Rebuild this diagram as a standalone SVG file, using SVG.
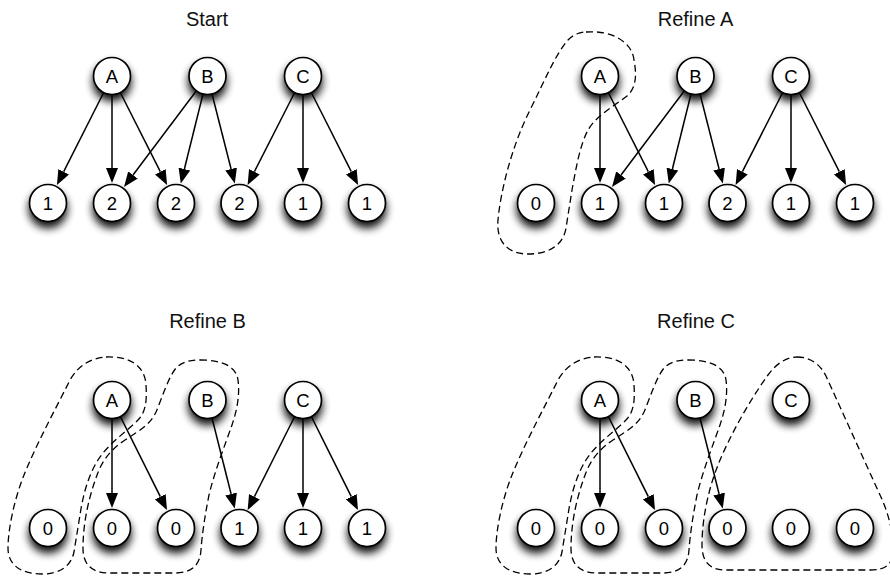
<svg xmlns="http://www.w3.org/2000/svg" xmlns:xlink="http://www.w3.org/1999/xlink" width="890" height="578" viewBox="0 0 890 578">
  <style>
    .title { font-family: "Liberation Sans", Arial, Helvetica, sans-serif; font-size: 20px; fill: #111; text-anchor: middle; }
    .node circle { fill: #fff; stroke: #000; stroke-width: 1.7; filter: url(#shadow); }
    .node text { font-family: "Liberation Sans", Arial, Helvetica, sans-serif; font-size: 18.5px; fill: #000; text-anchor: middle; }
    .edge { stroke: #000; stroke-width: 1.5; fill: none; marker-end: url(#arrow); }
    .group { fill: none; stroke: #000; stroke-width: 1.3; stroke-dasharray: 7 4; }
  </style>
  <defs>
    <filter id="shadow" x="-60%" y="-60%" width="220%" height="250%">
      <feGaussianBlur in="SourceAlpha" stdDeviation="4" result="blur"/>
      <feOffset in="blur" dx="0" dy="6" result="off"/>
      <feComponentTransfer in="off" result="soft">
        <feFuncA type="linear" slope="0.95"/>
      </feComponentTransfer>
      <feMerge>
        <feMergeNode in="soft"/>
        <feMergeNode in="SourceGraphic"/>
      </feMerge>
    </filter>
    <marker id="arrow" markerWidth="15" markerHeight="12" refX="0" refY="6" orient="auto" markerUnits="userSpaceOnUse">
      <path d="M0,0 L15,6 L0,12 Z" fill="#000"/>
    </marker>
    <!-- class outlines, drawn for the left-hand panel and shifted for the right one -->
    <path id="hull-a" d="M 106,357 C 130,356 145,366 146,385 C 147,400 146,412 138,420 C 126,432 108,444 98,460 C 88,476 83,495 80,515 L 74,552 C 71,566 60,574 42,574 C 22,574 8,566 8,548 C 8,530 14,500 24,475 C 36,445 55,410 70,380 C 78,366 90,358 106,357 Z"/>
    <path id="hull-b" d="M 200,360 C 222,360 236,366 238,380 C 240,395 237,410 232,425 C 225,445 215,470 209,495 C 205,515 202,535 201,550 C 200,565 192,573 175,573 L 110,573 C 92,573 83,565 83,548 C 83,525 88,500 96,478 C 101,462 110,450 125,440 C 140,430 150,425 156,412 C 162,398 168,378 176,368 C 182,362 190,360 200,360 Z"/>
  </defs>

  <rect x="0" y="0" width="890" height="578" fill="#fff"/>

  <!-- panel titles -->
  <text class="title" x="207" y="26">Start</text>
  <text class="title" x="695.5" y="26">Refine A</text>
  <text class="title" x="207.5" y="328">Refine B</text>
  <text class="title" x="696" y="328">Refine C</text>

  <!-- dashed partition outlines -->
  <g id="outlines">
    <path class="group" d="M 586,32 C 612,30 632,42 634,60 C 637,76 636,88 627,96 C 614,106 596,116 588,130 C 580,145 576,168 572,190 L 566,228 C 563,246 548,254 528,254 C 508,254 496,242 498,220 C 500,196 510,150 530,110 C 545,80 555,55 568,40 C 573,35 579,32 586,32 Z"/>
    <use class="group" xlink:href="#hull-a"/>
    <use class="group" xlink:href="#hull-b"/>
    <use class="group" xlink:href="#hull-a" transform="translate(488,0)"/>
    <use class="group" xlink:href="#hull-b" transform="translate(488,0)"/>
    <path class="group" d="M 797,357 C 810,357 820,364 826,376 L 880,495 C 888,512 893,530 893,550 C 893,565 885,570 870,570 L 725,570 C 710,570 702,562 702,545 C 702,520 708,490 718,465 C 730,435 750,400 768,375 C 776,364 786,357 797,357 Z"/>
  </g>

  <!-- connectors -->
  <g id="connectors">
    <!-- Start -->
    <line class="edge" x1="103.7" y1="92.5" x2="63.7" y2="171.7"/>
    <line class="edge" x1="112" y1="94.5" x2="112" y2="168"/>
    <line class="edge" x1="120.3" y1="92.5" x2="160.3" y2="171.7"/>
    <line class="edge" x1="196.4" y1="90.8" x2="133" y2="175"/>
    <line class="edge" x1="203" y1="94" x2="184.4" y2="169"/>
    <line class="edge" x1="212" y1="94" x2="231.1" y2="169"/>
    <line class="edge" x1="294.7" y1="92.5" x2="254.4" y2="171.7"/>
    <line class="edge" x1="303" y1="94.5" x2="303" y2="168"/>
    <line class="edge" x1="311.3" y1="92.5" x2="351.3" y2="171.7"/>
    <!-- Refine A -->
    <line class="edge" x1="600" y1="94.5" x2="600" y2="168"/>
    <line class="edge" x1="608.3" y1="92.5" x2="648.3" y2="171.7"/>
    <line class="edge" x1="684.4" y1="90.8" x2="621" y2="175"/>
    <line class="edge" x1="691" y1="94" x2="672.4" y2="169"/>
    <line class="edge" x1="700" y1="94" x2="719.1" y2="169"/>
    <line class="edge" x1="782.7" y1="92.5" x2="742.4" y2="171.7"/>
    <line class="edge" x1="791" y1="94.5" x2="791" y2="168"/>
    <line class="edge" x1="799.3" y1="92.5" x2="839.3" y2="171.7"/>
    <!-- Refine B -->
    <line class="edge" x1="112" y1="418.5" x2="112" y2="493"/>
    <line class="edge" x1="120.3" y1="416.5" x2="160.3" y2="496.7"/>
    <line class="edge" x1="212" y1="418" x2="231.1" y2="494"/>
    <line class="edge" x1="294.7" y1="416.5" x2="254.4" y2="496.7"/>
    <line class="edge" x1="303" y1="418.5" x2="303" y2="493"/>
    <line class="edge" x1="311.3" y1="416.5" x2="351.3" y2="496.7"/>
    <!-- Refine C -->
    <line class="edge" x1="600" y1="418.5" x2="600" y2="493"/>
    <line class="edge" x1="608.3" y1="416.5" x2="648.3" y2="496.7"/>
    <line class="edge" x1="700" y1="418" x2="719.1" y2="494"/>
  </g>

  <!-- Start -->
  <g id="start-A" class="node"><circle cx="112" cy="76" r="18.5"/><text x="112" y="82.5">A</text></g>
  <g id="start-B" class="node"><circle cx="207.5" cy="76" r="18.5"/><text x="207.5" y="82.5">B</text></g>
  <g id="start-C" class="node"><circle cx="303" cy="76" r="18.5"/><text x="303" y="82.5">C</text></g>
  <g id="start-v1" class="node"><circle cx="48" cy="203" r="18.5"/><text x="48" y="209.5">1</text></g>
  <g id="start-v2" class="node"><circle cx="112" cy="203" r="18.5"/><text x="112" y="209.5">2</text></g>
  <g id="start-v3" class="node"><circle cx="176" cy="203" r="18.5"/><text x="176" y="209.5">2</text></g>
  <g id="start-v4" class="node"><circle cx="239.5" cy="203" r="18.5"/><text x="239.5" y="209.5">2</text></g>
  <g id="start-v5" class="node"><circle cx="303" cy="203" r="18.5"/><text x="303" y="209.5">1</text></g>
  <g id="start-v6" class="node"><circle cx="367" cy="203" r="18.5"/><text x="367" y="209.5">1</text></g>

  <!-- Refine A -->
  <g id="refA-A" class="node"><circle cx="600" cy="76" r="18.5"/><text x="600" y="82.5">A</text></g>
  <g id="refA-B" class="node"><circle cx="695.5" cy="76" r="18.5"/><text x="695.5" y="82.5">B</text></g>
  <g id="refA-C" class="node"><circle cx="791" cy="76" r="18.5"/><text x="791" y="82.5">C</text></g>
  <g id="refA-v1" class="node"><circle cx="536" cy="203" r="18.5"/><text x="536" y="209.5">0</text></g>
  <g id="refA-v2" class="node"><circle cx="600" cy="203" r="18.5"/><text x="600" y="209.5">1</text></g>
  <g id="refA-v3" class="node"><circle cx="664" cy="203" r="18.5"/><text x="664" y="209.5">1</text></g>
  <g id="refA-v4" class="node"><circle cx="727.5" cy="203" r="18.5"/><text x="727.5" y="209.5">2</text></g>
  <g id="refA-v5" class="node"><circle cx="791" cy="203" r="18.5"/><text x="791" y="209.5">1</text></g>
  <g id="refA-v6" class="node"><circle cx="855" cy="203" r="18.5"/><text x="855" y="209.5">1</text></g>

  <!-- Refine B -->
  <g id="refB-A" class="node"><circle cx="112" cy="400" r="18.5"/><text x="112" y="406.5">A</text></g>
  <g id="refB-B" class="node"><circle cx="207.5" cy="400" r="18.5"/><text x="207.5" y="406.5">B</text></g>
  <g id="refB-C" class="node"><circle cx="303" cy="400" r="18.5"/><text x="303" y="406.5">C</text></g>
  <g id="refB-v1" class="node"><circle cx="48" cy="528" r="18.5"/><text x="48" y="534.5">0</text></g>
  <g id="refB-v2" class="node"><circle cx="112" cy="528" r="18.5"/><text x="112" y="534.5">0</text></g>
  <g id="refB-v3" class="node"><circle cx="176" cy="528" r="18.5"/><text x="176" y="534.5">0</text></g>
  <g id="refB-v4" class="node"><circle cx="239.5" cy="528" r="18.5"/><text x="239.5" y="534.5">1</text></g>
  <g id="refB-v5" class="node"><circle cx="303" cy="528" r="18.5"/><text x="303" y="534.5">1</text></g>
  <g id="refB-v6" class="node"><circle cx="367" cy="528" r="18.5"/><text x="367" y="534.5">1</text></g>

  <!-- Refine C -->
  <g id="refC-A" class="node"><circle cx="600" cy="400" r="18.5"/><text x="600" y="406.5">A</text></g>
  <g id="refC-B" class="node"><circle cx="695.5" cy="400" r="18.5"/><text x="695.5" y="406.5">B</text></g>
  <g id="refC-C" class="node"><circle cx="791" cy="400" r="18.5"/><text x="791" y="406.5">C</text></g>
  <g id="refC-v1" class="node"><circle cx="536" cy="528" r="18.5"/><text x="536" y="534.5">0</text></g>
  <g id="refC-v2" class="node"><circle cx="600" cy="528" r="18.5"/><text x="600" y="534.5">0</text></g>
  <g id="refC-v3" class="node"><circle cx="664" cy="528" r="18.5"/><text x="664" y="534.5">0</text></g>
  <g id="refC-v4" class="node"><circle cx="727.5" cy="528" r="18.5"/><text x="727.5" y="534.5">0</text></g>
  <g id="refC-v5" class="node"><circle cx="791" cy="528" r="18.5"/><text x="791" y="534.5">0</text></g>
  <g id="refC-v6" class="node"><circle cx="855" cy="528" r="18.5"/><text x="855" y="534.5">0</text></g>
</svg>
